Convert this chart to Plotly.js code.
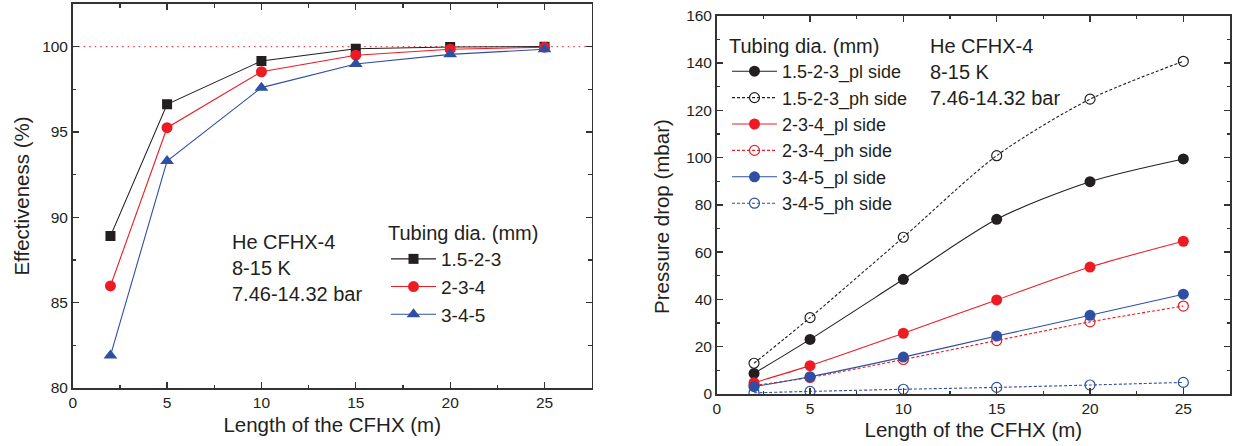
<!DOCTYPE html>
<html>
<head>
<meta charset="utf-8">
<script src="https://cdn.plot.ly/plotly-3.0.1.min.js"></script>
<style>html,body{margin:0;padding:0;background:#fff;}#chart{width:1238px;height:446px;}</style>
</head>
<body>
<div id="chart"></div>
<script>
// ---- Data ----
const lengths = [2, 5, 10, 15, 20, 25];

// Effectiveness (%)
const eff_15_2_3 = [88.9, 96.62, 99.16, 99.88, 99.98, 100.0];
const eff_2_3_4  = [85.98, 95.25, 98.53, 99.5, 99.85, 99.97];
const eff_3_4_5  = [81.9, 93.3, 97.6, 98.98, 99.55, 99.85];
const effReference = 100;

// Pressure drop (mbar)
const dp_15_2_3_pl = [8.7, 23.1, 48.5, 73.9, 89.8, 99.4];
const dp_15_2_3_ph = [13.0, 32.3, 66.3, 100.8, 124.7, 140.7];
const dp_2_3_4_pl  = [4.8, 12.0, 25.7, 39.8, 53.7, 64.6];
const dp_2_3_4_ph  = [3.6, 7.0, 14.6, 22.6, 30.5, 37.2];
const dp_3_4_5_pl  = [3.1, 7.3, 15.6, 24.5, 33.3, 42.2];
const dp_3_4_5_ph  = [0.5, 1.1, 2.0, 2.8, 3.8, 4.9];

const seriesNames = ['1.5-2-3', '2-3-4', '3-4-5'];
const legendTitle = 'Tubing dia. (mm)';
const infoText = 'He CFHX-4<br>8-15 K<br>7.46-14.32 bar';
const xTitle = 'Length of the CFHX (m)';
const yTitleLeft = 'Effectiveness (%)';
const yTitleRight = 'Pressure drop (mbar)';

// ---- Styles ----
const BLACK = '#231f20', RED = '#ed1c24', BLUE = '#2f4fa2';
const FONT = 'Liberation Sans, Arial, sans-serif';
const TXT = '#231f20';

function effTrace(y, name, color, symbol, size) {
  return {x: lengths, y: y, name: name, type: 'scatter', mode: 'lines+markers',
    xaxis: 'x', yaxis: 'y', legend: 'legend',
    line: {color: color, width: 1.1},
    marker: {color: color, symbol: symbol, size: size}};
}
function dpTrace(y, name, color, open) {
  return {x: lengths, y: y, name: name, type: 'scatter', mode: 'lines+markers',
    xaxis: 'x2', yaxis: 'y2', legend: 'legend2',
    line: {color: color, width: 1.1, shape: 'spline', smoothing: 0.8, dash: open ? '3px,2px' : 'solid'},
    marker: open ? {symbol: 'circle-open', size: 10, color: color, line: {color: color, width: 1.2}}
                 : {symbol: 'circle', size: 11, color: color}};
}

const traces = [
  effTrace(eff_15_2_3, seriesNames[0], BLACK, 'square', 10),
  effTrace(eff_2_3_4, seriesNames[1], RED, 'circle', 11),
  effTrace(eff_3_4_5, seriesNames[2], BLUE, 'triangle-up', 12),
  dpTrace(dp_15_2_3_pl, seriesNames[0] + '_pl side', BLACK, false),
  dpTrace(dp_15_2_3_ph, seriesNames[0] + '_ph side', BLACK, true),
  dpTrace(dp_2_3_4_pl, seriesNames[1] + '_pl side', RED, false),
  dpTrace(dp_2_3_4_ph, seriesNames[1] + '_ph side', RED, true),
  dpTrace(dp_3_4_5_pl, seriesNames[2] + '_pl side', BLUE, false),
  dpTrace(dp_3_4_5_ph, seriesNames[2] + '_ph side', BLUE, true)
];

const W = 1238, H = 446;
function axisBase(extra) {
  return Object.assign({
    showline: true, linecolor: '#333', linewidth: 1.6, mirror: 'allticks',
    ticks: 'inside', ticklen: 6, tickwidth: 1.3, tickcolor: '#333',
    showgrid: false, zeroline: false, automargin: false,
    tickfont: {family: FONT, size: 15.5, color: TXT}
  }, extra);
}
function minorTicks(dtick, tick0) {
  return {ticks: 'inside', ticklen: 3.5, tickwidth: 1.3, tickcolor: '#333', dtick: dtick, tick0: tick0, showgrid: false};
}
const titleFont = {family: FONT, size: 20.5, color: TXT};

const layout = {
  width: W, height: H,
  margin: {l: 0, r: 0, t: 0, b: 0},
  paper_bgcolor: '#fff', plot_bgcolor: '#fff',
  font: {family: FONT, color: TXT},
  xaxis: axisBase({domain: [72.7 / W, 591.7 / W], anchor: 'y', range: [0, 27.5], dtick: 5, tick0: 0,
    minor: minorTicks(2.5, 0), title: {text: xTitle, font: titleFont, standoff: 7}}),
  yaxis: axisBase({domain: [(H - 388) / H, (H - 4) / H], anchor: 'x', range: [80, 102.5], dtick: 5, tick0: 80,
    minor: minorTicks(2.5, 80), title: {text: yTitleLeft, font: titleFont, standoff: 7}}),
  xaxis2: axisBase({domain: [716.7 / W, 1230 / W], anchor: 'y2', range: [0, 27.5], dtick: 5, tick0: 0,
    minor: minorTicks(2.5, 0), title: {text: xTitle, font: titleFont, standoff: 6}}),
  yaxis2: axisBase({domain: [(H - 394) / H, (H - 15.7) / H], anchor: 'x2', range: [0, 160], dtick: 20, tick0: 0,
    minor: minorTicks(10, 0)}),
  showlegend: true,
  legend: {x: 386 / W, y: (H - 214) / H, xanchor: 'left', yanchor: 'top',
    bgcolor: 'rgba(0,0,0,0)', borderwidth: 0, itemwidth: 45,
    title: {text: legendTitle, font: {family: FONT, size: 20, color: TXT}},
    font: {family: FONT, size: 19, color: TXT}, tracegroupgap: 0},
  legend2: {x: 727 / W, y: (H - 27) / H, xanchor: 'left', yanchor: 'top',
    bgcolor: 'rgba(0,0,0,0)', borderwidth: 0, itemwidth: 45,
    title: {text: legendTitle, font: {family: FONT, size: 20, color: TXT}},
    font: {family: FONT, size: 18, color: TXT}, tracegroupgap: 0},
  shapes: [{type: 'line', xref: 'x domain', yref: 'y', x0: 0, x1: 1, y0: effReference, y1: effReference,
    line: {color: RED, width: 1, dash: '1.5px,4px'}, layer: 'below'}],
  annotations: [
    {text: infoText, xref: 'paper', yref: 'paper', x: 230 / W, y: (H - 268) / H,
      xanchor: 'left', yanchor: 'middle', align: 'left', showarrow: false,
      font: {family: FONT, size: 20, color: TXT}},
    {text: infoText, xref: 'paper', yref: 'paper', x: 928 / W, y: (H - 72.5) / H,
      xanchor: 'left', yanchor: 'middle', align: 'left', showarrow: false,
      font: {family: FONT, size: 20, color: TXT}},
    {text: yTitleRight, xref: 'paper', yref: 'paper', x: 662 / W, y: (H - 217) / H,
      xanchor: 'center', yanchor: 'middle', textangle: -90, showarrow: false,
      font: titleFont}
  ]
};

Plotly.newPlot('chart', traces, layout, {displayModeBar: false, staticPlot: true});
</script>
</body>
</html>
